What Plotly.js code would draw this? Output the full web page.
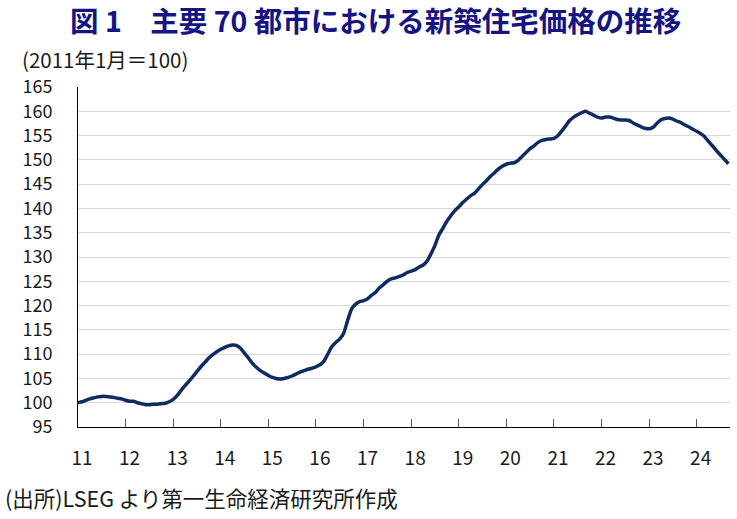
<!DOCTYPE html>
<html>
<head>
<meta charset="utf-8">
<script src="https://cdn.plot.ly/plotly-3.0.1.min.js"></script>
<style>
  html, body { margin: 0; padding: 0; background: #fff; }
  #chart { width: 737px; height: 519px; }
</style>
</head>
<body>
<div id="chart"></div>
<script>
// 主要70都市 新築住宅価格 (2011年1月=100), monthly
var startYear = 2011;

var v2011 = [100.0, 100.2, 100.5, 100.8, 101.0, 101.2, 101.3, 101.3, 101.2, 101.1, 100.9, 100.8];
var v2012 = [100.5, 100.3, 100.3, 100.0, 99.8, 99.6, 99.6, 99.7, 99.7, 99.8, 99.9, 100.2];
var v2013 = [100.7, 101.5, 102.5, 103.5, 104.4, 105.4, 106.4, 107.4, 108.3, 109.2, 109.9, 110.5];
var v2014 = [111.0, 111.4, 111.7, 111.9, 111.8, 111.2, 110.2, 109.2, 108.1, 107.3, 106.6, 106.1];
var v2015 = [105.6, 105.2, 105.0, 104.9, 105.0, 105.2, 105.5, 105.9, 106.3, 106.6, 106.9, 107.1];
var v2016 = [107.4, 107.8, 108.5, 110.0, 111.5, 112.4, 113.1, 114.3, 117.0, 119.3, 120.3, 120.8];
var v2017 = [121.0, 121.4, 122.1, 122.7, 123.6, 124.3, 125.0, 125.5, 125.7, 126.0, 126.3, 126.8];
var v2018 = [127.1, 127.4, 127.9, 128.3, 129.1, 130.6, 132.3, 134.5, 135.9, 137.3, 138.5, 139.5];
var v2019 = [140.3, 141.2, 141.9, 142.6, 143.1, 144.0, 144.9, 145.7, 146.6, 147.3, 148.1, 148.7];
var v2020 = [149.1, 149.3, 149.4, 149.9, 150.7, 151.5, 152.3, 152.9, 153.6, 154.0, 154.2, 154.3];
var v2021 = [154.4, 155.0, 155.9, 157.0, 158.1, 158.8, 159.3, 159.7, 160.0, 159.6, 159.2, 158.8];
var v2022 = [158.6, 158.8, 158.8, 158.6, 158.3, 158.2, 158.2, 158.1, 157.6, 157.2, 156.8, 156.5];
var v2023 = [156.4, 156.7, 157.5, 158.2, 158.5, 158.6, 158.4, 158.0, 157.7, 157.2, 156.8, 156.3];
var v2024 = [155.9, 155.4, 154.8, 153.8, 152.9, 151.9, 151.0, 150.1, 149.2];

var yearTicks = ['2011-01-01', '2012-01-01', '2013-01-01', '2014-01-01', '2015-01-01',
                 '2016-01-01', '2017-01-01', '2018-01-01', '2019-01-01', '2020-01-01',
                 '2021-01-01', '2022-01-01', '2023-01-01', '2024-01-01'];
var yearLabels = ['11', '12', '13', '14', '15', '16', '17', '18', '19', '20', '21', '22', '23', '24'];

var values = [].concat(v2011, v2012, v2013, v2014, v2015, v2016, v2017,
                       v2018, v2019, v2020, v2021, v2022, v2023, v2024);

// monthly dates matching values
var dates = values.map(function (v, i) {
  var y = startYear + Math.floor(i / 12);
  var m = (i % 12) + 1;
  return y + '-' + (m < 10 ? '0' + m : m) + '-01';
});

var font = 'Noto Sans CJK JP, Noto Sans, sans-serif';

var trace = {
  x: dates,
  y: values,
  type: 'scatter',
  mode: 'lines',
  line: { color: '#112b62', width: 3.5, shape: 'spline', smoothing: 0.5 },
  hoverinfo: 'skip'
};

var layout = {
  width: 737,
  height: 519,
  margin: { l: 78, r: 7, t: 87, b: 92 },
  paper_bgcolor: '#fff',
  plot_bgcolor: '#fff',
  showlegend: false,
  font: { family: font, size: 19, color: '#1a1a1a' },
  xaxis: {
    type: 'date',
    range: ['2011-01-01', '2024-09-13'],
    tickvals: yearTicks,
    ticktext: yearLabels,
    ticks: 'inside',
    ticklen: 8,
    tickwidth: 1,
    tickcolor: '#595959',
    showgrid: false,
    zeroline: false,
    showline: true,
    linecolor: '#000',
    linewidth: 1,
    ticklabelstandoff: 14,
    ticklabelshift: 4,
    tickfont: { family: font, size: 19, color: '#1a1a1a' }
  },
  yaxis: {
    range: [95, 165],
    dtick: 5,
    tick0: 95,
    ticks: '',
    showgrid: true,
    gridcolor: '#d9d9d9',
    gridwidth: 1,
    zeroline: false,
    showline: true,
    linecolor: '#000',
    linewidth: 1,
    ticklabelstandoff: 21,
    tickfont: { family: font, size: 18, color: '#1a1a1a' }
  },
  annotations: [
    {
      text: '<b>図 1　主要 70 都市における新築住宅価格の推移</b>',
      xref: 'paper', yref: 'paper',
      x: 0.457, y: 1.2,
      xanchor: 'center', yanchor: 'middle',
      showarrow: false,
      font: { family: font, size: 28.5, color: '#141482' }
    },
    {
      text: '(2011年1月＝100)',
      xref: 'paper', yref: 'paper',
      x: -0.089, y: 1.083,
      xanchor: 'left', yanchor: 'middle',
      showarrow: false,
      font: { family: font, size: 20.5, color: '#1a1a1a' }
    },
    {
      text: '(出所)LSEG より第一生命経済研究所作成',
      xref: 'paper', yref: 'paper',
      x: -0.115, y: -0.206,
      xanchor: 'left', yanchor: 'middle',
      showarrow: false,
      font: { family: font, size: 21.5, color: '#1a1a1a' }
    }
  ]
};

Plotly.newPlot('chart', [trace], layout, { displayModeBar: false, staticPlot: true });
</script>
</body>
</html>
